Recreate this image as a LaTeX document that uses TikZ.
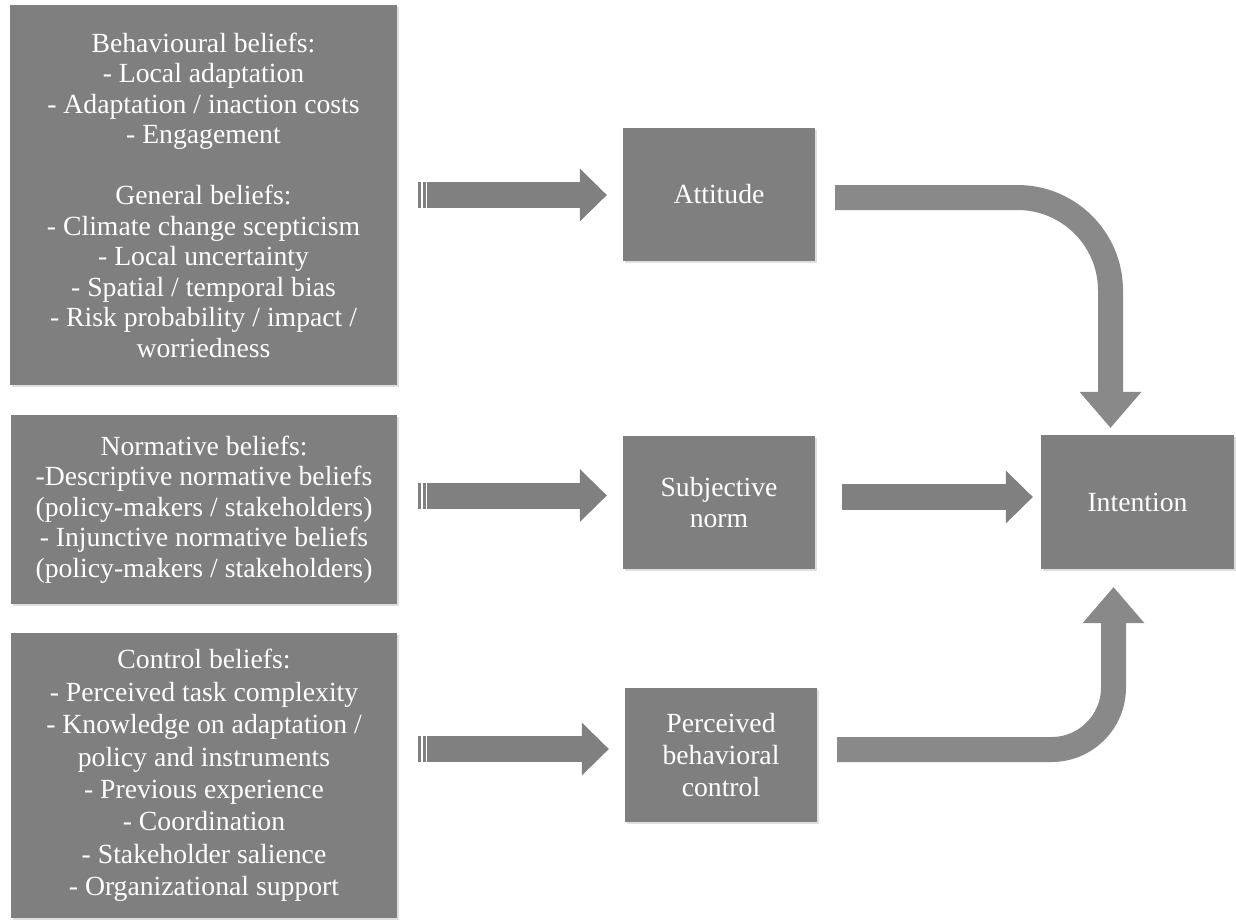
\documentclass[tikz,border=0pt]{standalone}
\usepackage{fontspec}
\setmainfont{Liberation Serif}
\usetikzlibrary{arrows.meta, shadows}
\definecolor{boxgray}{RGB}{127,127,127}
\definecolor{arrowgray}{RGB}{128,128,128}
\definecolor{bendgray}{RGB}{137,137,137}
\begin{document}
\begin{tikzpicture}[x = 1pt, y = -1pt,
		box/.style = {fill = boxgray, text = white, align = center, inner sep = 0pt, drop shadow = {shadow xshift = 1.5pt, shadow yshift = -2pt, opacity = 0.25}, font = \fontsize{27.7}{30.5}\selectfont},
		wide/.style = {font = \fontsize{27.7}{32.4}\selectfont},
		blockarrow/.style = {arrowgray, line width = 26pt, -{Triangle[length = 27pt, width = 53pt, line width = 0pt]}},
		striped/.style = {dash pattern = on 3pt off 1.5pt on 3pt off 1.5pt on 400pt off 0pt},
		bendarrow/.style = {bendgray, line width = 25pt, -{Triangle[length = 36pt, width = 62pt, line width = 0pt]}}]
		\useasboundingbox (0,0) rectangle (1236,922);
		% belief boxes
		\node [box, minimum width = 387pt, minimum height = 380pt] (beh) at (203.5,195) {Behavioural beliefs:\\ - Local adaptation\\ - Adaptation / inaction costs\\ - Engagement\\[30.5pt] General beliefs:\\ - Climate change scepticism\\ - Local uncertainty\\ - Spatial / temporal bias\\ - Risk probability / impact /\\ worriedness};
		\node [box, minimum width = 386pt, minimum height = 189pt] (nor) at (204,509.5) {Normative beliefs:\\ -Descriptive normative beliefs\\ (policy-makers / stakeholders)\\ - Injunctive normative beliefs\\ (policy-makers / stakeholders)};
		\node [box, wide, minimum width = 386pt, minimum height = 285pt] (con) at (204,775.5) {Control beliefs:\\ - Perceived task complexity\\ - Knowledge on adaptation /\\ policy and instruments\\ - Previous experience\\ - Coordination\\ - Stakeholder salience\\ - Organizational support};
		% constructs
		\node [box, minimum width = 192pt, minimum height = 133pt] (att) at (719,194.5) {Attitude};
		\node [box, minimum width = 192pt, minimum height = 133pt] (sub) at (719,502.5) {Subjective\\ norm};
		\node [box, wide, minimum width = 192pt, minimum height = 134pt] (pbc) at (721,755) {Perceived\\ behavioral\\ control};
		\node [box, minimum width = 193pt, minimum height = 134pt] (int) at (1137.5,502) {Intention};
		% arrows
		\draw [blockarrow, striped] ([xshift = 21pt]beh.east) -- ([xshift = -16pt, yshift = -0.5pt]att.west);
		\draw [blockarrow, striped] ([xshift = 21pt, yshift = 14pt]nor.east) -- ([xshift = -16pt, yshift = 7pt]sub.west);
		\draw [blockarrow, striped] ([xshift = 21pt, yshift = 26.5pt]con.east) -- ([xshift = -16pt, yshift = 6pt]pbc.west);
		\draw [blockarrow] ([xshift = 27pt, yshift = 5.5pt]sub.east) -- ([xshift = -8pt, yshift = 5pt]int.west);
		\draw [bendarrow, rounded corners = 93pt] ([xshift = 20pt, yshift = -3pt]att.east) -| ([xshift = -27pt, yshift = 7pt]int.north);
		\draw [bendarrow, rounded corners = 62pt] ([xshift = 20pt, yshift = 5.5pt]pbc.east) -| ([xshift = -24pt, yshift = -18pt]int.south);
\end{tikzpicture}
\end{document}
